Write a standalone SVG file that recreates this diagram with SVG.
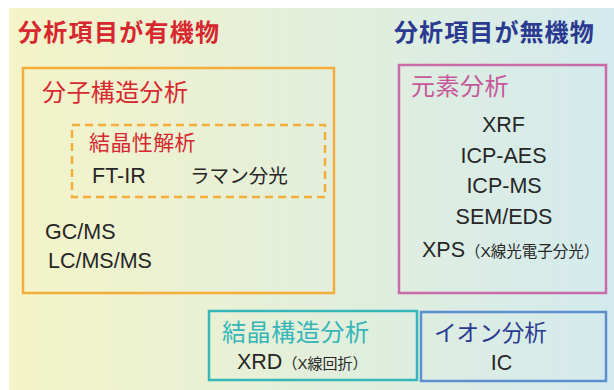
<svg xmlns="http://www.w3.org/2000/svg" width="614" height="390" viewBox="0 0 614 390">
<defs>
<linearGradient id="bg" x1="0" y1="0" x2="1" y2="0">
<stop offset="0" stop-color="#f4f4c8"/>
<stop offset="1" stop-color="#d3eaed"/>
</linearGradient>
</defs>
<style>
text{font-family:"Liberation Sans","Noto Sans CJK JP",sans-serif;}
.t{font-size:24px;font-weight:bold;}
.h{font-size:24px;}
.k{font-size:21.5px;fill:#262626;}
.s{font-size:15.5px;}
.box{fill:none;stroke-width:2.5;}
</style>
<rect x="9" y="8" width="605" height="382" fill="url(#bg)"/>
<g id="organic-title"><text class="t" x="18" y="41" fill="#d7282f" letter-spacing="1.3">分析項目が有機物</text></g>
<g id="inorganic-title"><text class="t" x="394" y="41" fill="#2b3990" letter-spacing="1.1">分析項目が無機物</text></g>
<g id="molecular">
<rect class="box" x="23" y="68" width="311" height="225" stroke="#f5ad3a"/>
<text class="h" x="42" y="101" fill="#d7282f" letter-spacing="0.4">分子構造分析</text>
<text class="k" x="45" y="239">GC/MS</text>
<text class="k" x="48" y="268">LC/MS/MS</text>
</g>
<g id="crystallinity">
<rect class="box" x="72" y="125" width="253" height="72" stroke="#f5ad3a" stroke-dasharray="8 5"/>
<text x="89" y="150" fill="#d7282f" style="font-size:21px" letter-spacing="0.4">結晶性解析</text>
<text class="k" x="92" y="183">FT-IR</text>
<text class="k" x="190" y="183" style="font-size:19.6px">ラマン分光</text>
</g>
<g id="elemental">
<rect class="box" x="399" y="65" width="207" height="228" stroke="#c96aa9"/>
<text class="h" x="411" y="95" fill="#c6579a" letter-spacing="0.5">元素分析</text>
<g text-anchor="middle">
<text class="k" x="503.5" y="132">XRF</text>
<text class="k" x="503.5" y="163">ICP-AES</text>
<text class="k" x="504" y="193">ICP-MS</text>
<text class="k" x="504" y="224">SEM/EDS</text>
</g>
<text class="k" x="422" y="257">XPS<tspan class="s">（X線光電子分光）</tspan></text>
</g>
<g id="crystal-structure">
<rect class="box" x="209" y="311" width="208" height="69" stroke="#35b6b8"/>
<text class="h" x="222" y="341" fill="#35b6b8" letter-spacing="0.6">結晶構造分析</text>
<text class="k" x="237" y="369">XRD<tspan class="s" style="font-size:15px">（X線回折）</tspan></text>
</g>
<g id="ion">
<rect class="box" x="421" y="312" width="185" height="69" stroke="#5b8fd0"/>
<text x="434" y="341" fill="#2b3990" style="font-size:22.6px">イオン分析</text>
<text class="k" x="501.5" y="370" text-anchor="middle">IC</text>
</g>
<g id="connectors"/>
</svg>
